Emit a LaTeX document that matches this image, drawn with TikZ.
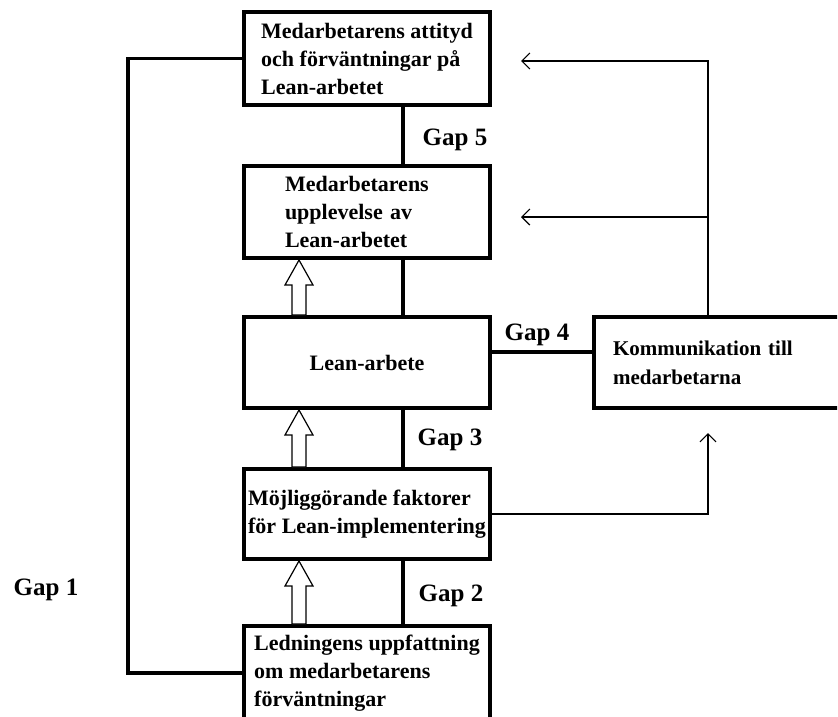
\documentclass[tikz,border=0pt]{standalone}
\usepackage{fontspec}
\setmainfont{Liberation Serif}
\usetikzlibrary{calc,arrows.meta}

\newcommand{\hollowup}[2]{%
  \draw[hollow] ($(#1)+(-7,0)$) -- ($(#2)+(-7,25)$) -- ($(#2)+(-14,25)$) -- (#2)
    -- ($(#2)+(14,25)$) -- ($(#2)+(7,25)$) -- ($(#1)+(7,0)$) -- cycle;}

\begin{document}
\begin{tikzpicture}[x=1pt,y=-1pt,
  stage/.style={draw, line width=4pt, minimum width=246pt, align=left, inner sep=0pt,
    font=\fontsize{22}{28}\selectfont\bfseries},
  gaplabel/.style={font=\fontsize{25}{30}\selectfont\bfseries, inner sep=0pt},
  link/.style={line width=4pt},
  feed/.style={line width=1.2pt, -{Straight Barb[length=8pt,width=16pt]}},
  hollow/.style={line width=1.2pt, fill=white, line join=miter}]
\useasboundingbox (0,0) rectangle (838,716);
\clip (0,0) rectangle (837,716);

\node[stage, minimum height=93pt] (att) at (367,58.5) {Medarbetarens attityd\\och förväntningar på\\Lean-arbetet};
\node[stage, minimum height=92pt, text width=164pt, inner xsep=41pt] (upl) at (367,212) {Medarbetarens\\upplevelse av\\Lean-arbetet};
\node[stage, minimum height=91pt] (lean) at (367,362.5) {Lean-arbete};
\node[stage, minimum height=90pt] (enab) at (367,514) {Möjliggörande faktorer\\för Lean-implementering};
\node[stage, minimum height=94pt] (led) at (367,673) {Ledningens uppfattning\\om medarbetarens\\förväntningar};
\node[stage, minimum height=91pt, text width=262pt, inner xsep=19pt, font=\fontsize{21}{29}\selectfont\bfseries] (comm) at (744,362.5) {Kommunikation till\\medarbetarna};

\foreach \a/\b in {att/upl, upl/lean, lean/enab, enab/led}
  \draw[link] ([xshift=36pt]\a.south) -- ([xshift=36pt]\b.north);
\foreach \a/\b in {lean/upl, enab/lean, led/enab}
  {\hollowup{[xshift=-68pt]\a.north}{[xshift=-68pt]\b.south}}

\coordinate (loop) at (128,0);
\draw[link, line width=3.5pt] (att.west) -- (att.west -| loop) -- (led.west -| loop) -- (led.west);

\coordinate (g4) at ($(lean.east)+(0,-10.5)$);
\draw[link] (g4) -- (g4 -| comm.west);

\coordinate (fb) at (708,0);
\coordinate (fbin) at ($(comm.south -| fb)+(0,23)$);
\draw[feed] (comm.north -| fb) -- ($(fb |- att.east)+(0,2.5)$) -- ($(att.east)+(29,2.5)$);
\draw[feed] ($(fb |- upl.east)+(0,5)$) -- ($(upl.east)+(29,5)$);
\draw[feed] (enab.east) -| (fbin);

\node[gaplabel] (gap5) at (455,140) {Gap 5};
\node[gaplabel] (gap4) at (537,335) {Gap 4};
\node[gaplabel] (gap3) at (450,440) {Gap 3};
\node[gaplabel] (gap2) at (451,596) {Gap 2};
\node[gaplabel] (gap1) at (46,590) {Gap 1};
\end{tikzpicture}
\end{document}
